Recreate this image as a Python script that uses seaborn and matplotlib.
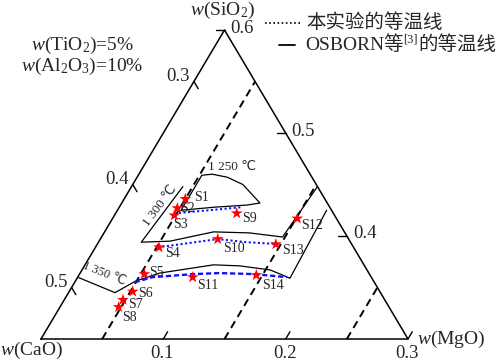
import numpy as np
import pandas as pd
import matplotlib
matplotlib.use("Agg")
import matplotlib.pyplot as plt
import seaborn as sns
from matplotlib.lines import Line2D

sns.set_theme(style="white")
plt.rcParams["font.family"] = ["Liberation Serif", "DejaVu Sans", "Noto Sans CJK SC"]
plt.rcParams["mathtext.fontset"] = "custom"
plt.rcParams["mathtext.rm"] = "Liberation Serif"
plt.rcParams["mathtext.it"] = "Liberation Serif:italic"

# window of the ternary: w(SiO2) 0.3-0.6, w(MgO) 0-0.3, w(CaO) = 0.85 - SiO2 - MgO
SIO2_MIN = 0.3
TOTAL = 0.85

# sample compositions
samples = ["S1", "S2", "S3", "S4", "S5", "S6", "S7", "S8", "S9", "S10", "S11", "S12", "S13", "S14"]
mgo = [0.050, 0.048, 0.049, 0.052, 0.053, 0.052, 0.048, 0.048, 0.099, 0.096, 0.094, 0.151, 0.146, 0.145]
sio2 = [0.436, 0.427, 0.420, 0.389, 0.363, 0.346, 0.338, 0.331, 0.422, 0.397, 0.360, 0.417, 0.392, 0.362]

# OSBORN isotherms
osb_1250_mgo = [0.052, 0.052, 0.060, 0.074, 0.090, 0.113, 0.103, 0.078, 0.052]
osb_1250_sio2 = [0.425, 0.459, 0.460, 0.457, 0.450, 0.432, 0.430, 0.428, 0.425]
osb_1300_mgo = [0.042, 0.035, 0.058, 0.089, 0.119, 0.148, 0.152]
osb_1300_sio2 = [0.448, 0.394, 0.395, 0.404, 0.403, 0.399, 0.448]
osb_1350_mgo = [0.0, 0.038, 0.049, 0.065, 0.080, 0.105, 0.127, 0.154, 0.174, 0.171]
osb_1350_sio2 = [0.360, 0.345, 0.356, 0.364, 0.367, 0.372, 0.371, 0.367, 0.359, 0.425]

# isotherms of this work
exp_1250_mgo = [0.048, 0.075, 0.100]
exp_1250_sio2 = [0.422, 0.425, 0.428]
exp_1300_mgo = [0.051, 0.068, 0.096, 0.121, 0.149]
exp_1300_sio2 = [0.389, 0.392, 0.397, 0.394, 0.392]
exp_1350_mgo = [0.049, 0.061, 0.093, 0.114, 0.143, 0.171]
exp_1350_sio2 = [0.355, 0.360, 0.363, 0.364, 0.363, 0.360]

# constant w(MgO) guide lines
guide_mgo = [0.05, 0.15, 0.25]

cao_ticks = [0.3, 0.4, 0.5]
sio2_ticks = [0.6, 0.5, 0.4]
mgo_ticks = [0.1, 0.2, 0.3]


def to_xy(m, s):
    m = np.asarray(m, dtype=float)
    h = np.asarray(s, dtype=float) - SIO2_MIN
    return m + h / 2, h * np.sqrt(3) / 2


def line(ax, m, s, **kw):
    x, y = to_xy(m, s)
    df = pd.DataFrame({"x": x, "y": y})
    sns.lineplot(data=df, x="x", y="y", sort=False, estimator=None, ax=ax, **kw)


fig = plt.figure(figsize=(5, 3.62), dpi=100)
ax = fig.add_axes([0, 0, 1, 1])
ax.axis("off")
PX = 367 / 0.3
PY = 309 / (0.3 * np.sqrt(3) / 2)
ax.set_xlim(-41 / PX, 459 / PX)
ax.set_ylim(-23 / PY, 339 / PY)

# frame
line(ax, [0, 0.3, 0, 0], [0.3, 0.3, 0.6, 0.3], color="black", lw=1.1)

# ticks
d = 0.007
for c in cao_ticks:
    s0 = TOTAL - c
    line(ax, [0, d], [s0, s0 - d], color="black", lw=1)
    ax.annotate(f"{c:.1f}", to_xy(0, s0), xytext=(-4, 5), textcoords="offset pixels",
                ha="right", va="center", fontsize=13.5)
for s in sio2_ticks:
    m0 = 2 * SIO2_MIN - s
    line(ax, [m0, m0 - d], [s, s], color="black", lw=1)
    ax.annotate(f"{s:.1f}", to_xy(m0, s), xytext=(6, 2), textcoords="offset pixels",
                ha="left", va="center", fontsize=13.5)
for m in mgo_ticks:
    line(ax, [m, m], [SIO2_MIN, SIO2_MIN + d], color="black", lw=1)
    ax.annotate(f"{m:.1f}", to_xy(m, SIO2_MIN), xytext=(-1, -14), textcoords="offset pixels",
                ha="center", va="center", fontsize=13.5)

ax.annotate(r"$w$(SiO$_2$)", to_xy(0, 0.6), xytext=(-2, 20), textcoords="offset pixels",
            ha="center", va="center", fontsize=14)
ax.annotate(r"$w$(CaO)", to_xy(0, 0.3), xytext=(-10, -11), textcoords="offset pixels",
            ha="center", va="center", fontsize=14)
ax.annotate(r"$w$(MgO)", to_xy(0.3, 0.3), xytext=(9, 0), textcoords="offset pixels",
            ha="left", va="center", fontsize=14)

# guide lines
for m in guide_mgo:
    line(ax, [m, m], [SIO2_MIN, 2 * SIO2_MIN - m], color="black", lw=1.4,
         linestyle=(0, (4, 2.6)))

# OSBORN isotherms
for mm, ss in [(osb_1250_mgo, osb_1250_sio2), (osb_1300_mgo, osb_1300_sio2),
               (osb_1350_mgo, osb_1350_sio2)]:
    line(ax, mm, ss, color="black", lw=0.9)

# this work
line(ax, exp_1250_mgo, exp_1250_sio2, color="#1010ff", lw=1.5, linestyle=(0, (1, 1.2)))
line(ax, exp_1300_mgo, exp_1300_sio2, color="#1010ff", lw=1.5, linestyle=(0, (1, 1.2)))
line(ax, exp_1350_mgo, exp_1350_sio2, color="#1010ff", lw=1.7, linestyle=(0, (2.2, 1.2)))

# samples
px, py = to_xy(mgo, sio2)
pts = pd.DataFrame({"x": px, "y": py, "name": samples})
sns.scatterplot(data=pts, x="x", y="y", marker="*", s=80, color="red",
                edgecolor="none", ax=ax, zorder=5)
offsets = {"S1": (9, 1), "S2": (3, 0), "S3": (-1, -9), "S4": (6, -6), "S5": (5, 2),
           "S6": (5, -2), "S7": (5, -5), "S8": (3, -10), "S9": (5, -5), "S10": (5, -9),
           "S11": (4, -8), "S12": (4, -7), "S13": (6, -6), "S14": (6, -10)}
for _, r in pts.iterrows():
    ax.annotate(r["name"], (r["x"], r["y"]), xytext=offsets[r["name"]],
                textcoords="offset pixels", ha="left", va="center", fontsize=10)

ax.set_xlabel("")
ax.set_ylabel("")

# isotherm labels
ax.text(*to_xy(0.053, 0.467), "1 250 ℃", ha="left", va="center", fontsize=9.5)
ax.text(*to_xy(0.033, 0.429), "1 300 ℃", ha="center", va="center", fontsize=9.5,
        rotation=53, rotation_mode="anchor")
ax.text(*to_xy(0.020, 0.363), "1 350 ℃", ha="center", va="center", fontsize=9,
        rotation=-22, rotation_mode="anchor")

# composition note
fig.text(83 / 500, 1 - 45 / 362, r"$w$(TiO$_2$)=5%", ha="center", va="center", fontsize=14)
fig.text(82 / 500, 1 - 66 / 362, r"$w$(Al$_2$O$_3$)=10%", ha="center", va="center", fontsize=14)

# legend
fig.add_artist(Line2D([265 / 500, 300 / 500], [1 - 23 / 362] * 2, color="black", lw=1.2,
                      linestyle=(0, (1, 1.5))))
fig.add_artist(Line2D([279 / 500, 295 / 500], [1 - 45 / 362] * 2, color="black", lw=1.3))
fig.text(306 / 500, 1 - 23 / 362, "本实验的等温线", ha="left", va="center", fontsize=14)
t1 = fig.text(305 / 500, 1 - 45 / 362, "OSBORN等", ha="left", va="center", fontsize=14)
t2 = ax.annotate("[3]", xy=(1, 0.45), xycoords=t1, ha="left", va="bottom", fontsize=9)
ax.annotate("的等温线", xy=(1, 0.5), xycoords=(t2, t1), ha="left", va="center", fontsize=14)

fig.savefig("out.png", dpi=100)
